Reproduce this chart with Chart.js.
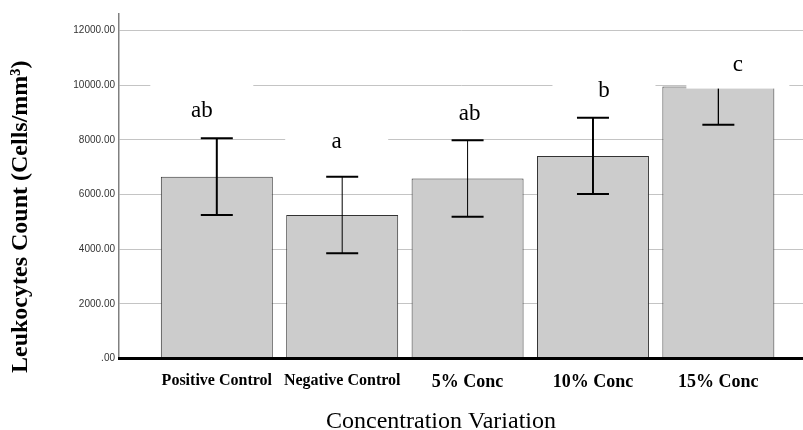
<!DOCTYPE html>
<html>
<head>
<meta charset="utf-8">
<script src="https://cdn.jsdelivr.net/npm/chart.js@4.4.1/dist/chart.umd.min.js"></script>
<style>
  html, body { margin: 0; padding: 0; background: #fff; }
</style>
</head>
<body>
<canvas id="myChart" width="803" height="430"></canvas>
<script>
// data
var categories = ['Positive Control', 'Negative Control', '5% Conc', '10% Conc', '15% Conc'];
var means = [6650, 5245, 6585, 7410, 9950];
var errors = [1405, 1400, 1400, 1395, 1400];
var letters = ['ab', 'a', 'ab', 'b', 'c'];
var yTicks = [0, 2000, 4000, 6000, 8000, 10000, 12000];

var serif = "'Liberation Serif', 'Times New Roman', serif";

// error bars drawn through the chart scales
var errorBars = {
    id: 'errorBars',
    afterDatasetsDraw: function(chart, args, opts) {
        var ctx = chart.ctx, xs = chart.scales.x, ys = chart.scales.y;
        ctx.save();
        ctx.strokeStyle = opts.color;
        means.forEach(function(m, i) {
            var cx = xs.getPixelForValue(i);
            var top = ys.getPixelForValue(m + errors[i]);
            var bot = ys.getPixelForValue(m - errors[i]);
            ctx.lineWidth = opts.stemWidth[i];
            ctx.beginPath();
            ctx.moveTo(cx, top);
            ctx.lineTo(cx, bot);
            ctx.stroke();
            ctx.lineWidth = opts.capWidth;
            ctx.beginPath();
            ctx.moveTo(cx - opts.cap, top); ctx.lineTo(cx + opts.cap, top);
            ctx.moveTo(cx - opts.cap, bot); ctx.lineTo(cx + opts.cap, bot);
            ctx.stroke();
        });
        ctx.restore();
    }
};

// significance letters, each on a white box
var letterLabels = {
    id: 'letterLabels',
    afterDatasetsDraw: function(chart, args, opts) {
        var ctx = chart.ctx, xs = chart.scales.x, ys = chart.scales.y;
        ctx.save();
        ctx.font = opts.size + 'px ' + serif;
        ctx.textAlign = 'center';
        ctx.textBaseline = 'alphabetic';
        letters.forEach(function(t, i) {
            var cx = xs.getPixelForValue(i) + opts.dx[i];
            var base = ys.getPixelForValue(means[i] + errors[i]) - opts.dy[i];
            ctx.fillStyle = '#fff';
            ctx.fillRect(cx - 51.5, base - 33, 103, 51);
            ctx.fillStyle = '#000';
            ctx.fillText(t, cx, base);
        });
        ctx.restore();
    }
};

var axisTitles = {
    id: 'axisTitles',
    afterDraw: function(chart) {
        var ctx = chart.ctx;
        ctx.save();
        ctx.fillStyle = '#000';
        ctx.textBaseline = 'alphabetic';
        ctx.font = '24px ' + serif;
        ctx.textAlign = 'center';
        ctx.fillText('Concentration Variation', 441, 428);
        ctx.translate(27, 373);
        ctx.rotate(-Math.PI / 2);
        ctx.font = 'bold 24px ' + serif;
        ctx.textAlign = 'left';
        ctx.fillText('Leukocytes Count (Cells/mm\u00b3)', 0, 0);
        ctx.restore();
    }
};

var ctx = document.getElementById('myChart').getContext('2d');
var chart = new Chart(ctx, {
    type: 'bar',
    data: {
        datasets: [{
            data: means.map(function(m, i) { return { x: i, y: m }; }),
            backgroundColor: '#cccccc',
            borderColor: '#333333',
            borderWidth: 1,
            barPercentage: 0.893,
            categoryPercentage: 1
        }]
    },
    options: {
        responsive: false,
        animation: false,
        layout: { padding: { top: 14, right: 0, bottom: 0, left: 0 } },
        plugins: {
            legend: { display: false },
            tooltip: { enabled: false },
            errorBars: { color: '#000', stemWidth: [2, 1, 1, 2, 1.3], capWidth: 2, cap: 16 },
            letterLabels: { size: 23, dx: [-15, -5.5, 2, 11, 19.5], dy: [21.6, 28.4, 20.3, 20.7, -22.4] }
        },
        scales: {
            x: {
                type: 'linear',
                min: -0.78,
                max: 4.675,
                offset: false,
                grid: { display: false, offset: false, drawTicks: false },
                border: { display: true, color: '#000', width: 3, z: 1 },
                afterBuildTicks: function(s) {
                    s.ticks = categories.map(function(c, i) { return { value: i }; });
                },
                afterFit: function(s) { s.height = 71.5; },
                ticks: {
                    autoSkip: false,
                    maxRotation: 0,
                    padding: 13,
                    color: '#000',
                    callback: function(v) { return categories[v]; },
                    font: function(c) {
                        return { family: serif, weight: 'bold', size: c.index < 2 ? 16 : 18 };
                    }
                }
            },
            y: {
                min: 0,
                max: 12600,
                afterBuildTicks: function(s) {
                    s.ticks = yTicks.map(function(v) { return { value: v }; });
                },
                afterFit: function(s) { s.width = 119; },
                grid: { color: '#c4c4c4', lineWidth: 1, drawTicks: false },
                border: { color: '#808080', width: 1.5 },
                ticks: {
                    padding: 4,
                    color: '#333',
                    font: { family: "'Liberation Sans', Arial, sans-serif", size: 10 },
                    callback: function(v) { return v === 0 ? '.00' : v.toFixed(2); }
                }
            }
        }
    },
    plugins: [errorBars, letterLabels, axisTitles]
});
</script>
</body>
</html>
